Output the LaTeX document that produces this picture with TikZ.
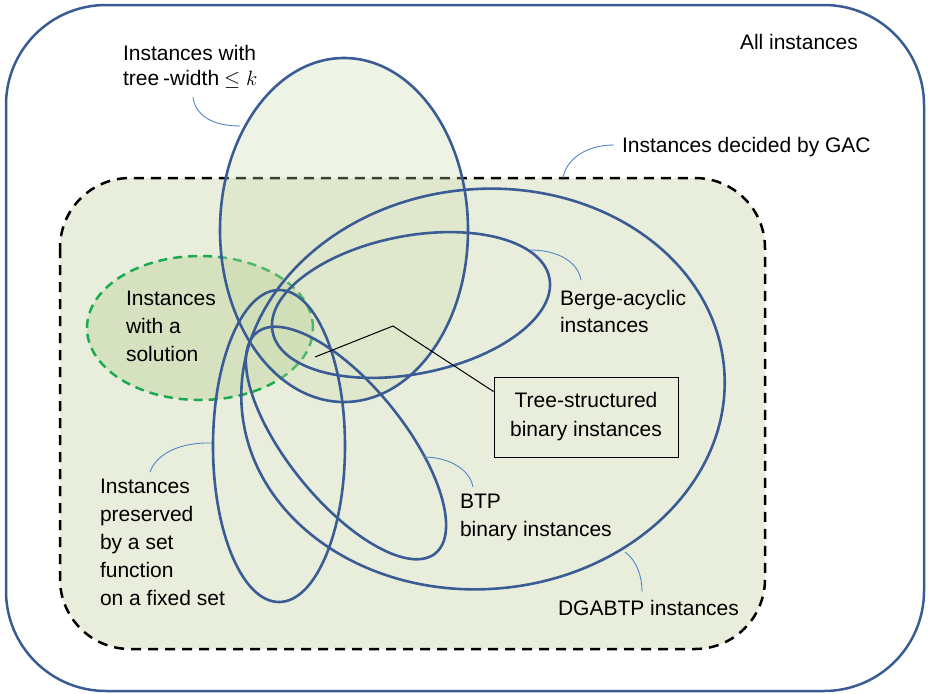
\documentclass[tikz,border=0pt]{standalone}
\usepackage{fontspec}
\setmainfont{Liberation Sans}
\usetikzlibrary{shapes.geometric,calc}
\definecolor{setblue}{HTML}{3A5C94}
\definecolor{leadblue}{HTML}{4F86C6}
\definecolor{gacfill}{HTML}{E9EEDC}
\definecolor{twfill}{HTML}{C8D9A8}
\definecolor{solgreen}{HTML}{1BAA4E}
\begin{document}
\begin{tikzpicture}[x=1pt,y=-1pt,
  lbl/.style={inner sep=0pt, outer sep=0pt, anchor=base west, align=left, font=\fontsize{21}{28}\selectfont},
  setell/.style={ellipse, draw=setblue, line width=2.6pt, inner sep=0pt, outer sep=0pt},
  leader/.style={draw=leadblue, line width=0.9pt},
  pointer/.style={draw=black, line width=1pt},
  tsbox/.style={draw=black, line width=1pt, minimum width=184pt, minimum height=80pt, align=center, inner sep=0pt, font=\fontsize{21}{29}\selectfont}
]
\useasboundingbox (0,0) rectangle (930,694);
% outer frame: all instances
\draw[setblue, line width=2.5pt, rounded corners=100pt] (6,5) rectangle (924,691);
% instances decided by GAC
\draw[black, line width=2.5pt, dash pattern=on 10pt off 7pt, fill=gacfill, rounded corners=70pt] (60,178) rectangle (765,649);
% instances with a solution
\node[ellipse, draw=solgreen, dash pattern=on 9pt off 6pt, line width=2.5pt, fill=twfill, fill opacity=0.55, inner sep=0pt, minimum width=226pt, minimum height=144pt] (sol) at (200,328) {};
% tree-width ellipse
\node[setell, fill=twfill, fill opacity=0.3, minimum width=248pt, minimum height=344pt] (tw) at (344,230) {};
% DGABTP
\node[setell, minimum width=484pt, minimum height=400pt, rotate=5] (dg) at (483,389) {};
% Berge-acyclic
\node[setell, minimum width=282pt, minimum height=138pt, rotate=11] (berge) at (411,305) {};
% BTP
\node[setell, minimum width=284pt, minimum height=116pt, rotate=-51] (btp) at (346,443) {};
% set function
\node[setell, minimum width=132pt, minimum height=312pt] (sf) at (279,446) {};

% labels (anchor = baseline of the last line)
\node[lbl] (allt) at (740,49) {All instances};
\node[lbl, font=\fontsize{21}{25}\selectfont] (twt) at (123,85) {Instances with\\tree\kern4pt-width\kern5pt$\leq k$};
\node[lbl] (gact) at (622,152) {Instances decided by GAC};
\node[lbl] (solt) at (126,361) {Instances\\with a\\solution};
\node[lbl, font=\fontsize{21}{27}\selectfont] (bergt) at (560,332) {Berge-acyclic\\instances};
\node[tsbox] (tsb) at (586,417) {Tree-structured\\binary instances};
\node[lbl] (btpt) at (460,536) {BTP\\binary instances};
\node[lbl] (sft) at (100,605) {Instances\\preserved\\by a set\\function\\on a fixed set};
\node[lbl] (dgt) at (558,615) {DGABTP instances};

% pointer to tree-structured
\coordinate (tsa) at (315,357);
\coordinate (tsk) at (393,326);
\coordinate (tse) at ($(tsb.north west)+(0,15)$);
\draw[pointer] (tsa) -- (tsk) -- (tse);

% leader lines
\coordinate (twa) at (193,97);  \coordinate (twb) at (240,126);
\draw[leader] (twa) .. controls (195,115) and (212,126) .. (twb);
\coordinate (gaa) at (563,178); \coordinate (gab) at (614,145);
\draw[leader] (gaa) .. controls (566,160) and (585,145) .. (gab);
\coordinate (bea) at (530,250); \coordinate (beb) at (581,280);
\draw[leader] (bea) .. controls (558,250) and (578,262) .. (beb);
\coordinate (bta) at (423,457); \coordinate (btb) at (473,487);
\draw[leader] (bta) .. controls (450,457) and (470,470) .. (btb);
\coordinate (dga) at (625,552); \coordinate (dgb) at (642,592);
\draw[leader] (dga) .. controls (636,560) and (642,575) .. (dgb);
\coordinate (sfa) at (212,443); \coordinate (sfb) at (150,472);
\draw[leader] (sfa) .. controls (178,442) and (156,455) .. (sfb);
\end{tikzpicture}
\end{document}
